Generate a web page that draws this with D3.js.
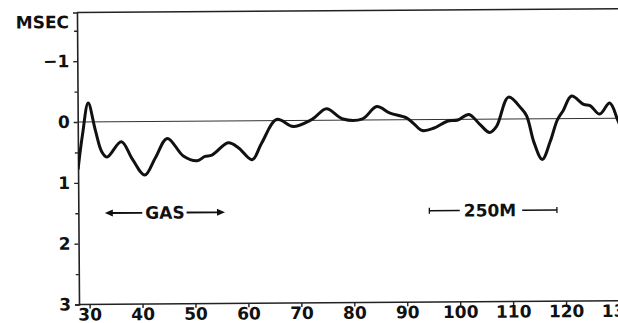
<!DOCTYPE html>
<html>
<head>
<meta charset="utf-8">
<script src="https://cdn.jsdelivr.net/npm/d3@7"></script>
<style>
  html, body { margin: 0; padding: 0; background: #fff; }
  svg { display: block; }
  text { font-family: "DejaVu Sans", sans-serif; font-weight: bold; fill: #111; }
</style>
</head>
<body>
<svg id="chart" width="618" height="323"></svg>
<script>
// Travel-time delay (msec) along the profile (distance units on the x axis)
const distance = [28.0, 28.9, 30.0, 31.3, 32.5, 33.5, 36.2, 38.3, 40.6, 42.6, 44.9, 47.9, 50.5, 52.0, 53.3,
  56.4, 58.3, 60.9, 62.7, 65.6, 68.7, 71.9, 72.8, 75.0, 78.1, 81.8, 84.5, 87.0, 90.1, 91.4, 93.1, 95.3,
  97.8, 99.8, 101.9, 103.9, 105.8, 107.1, 109.4, 111.8, 112.8, 114.2, 115.7, 117.2, 118.6, 119.7, 121.3,
  123.6, 124.8, 126.6, 128.5, 130.0, 131.0];
const delay = [0.78, 0.2, -0.31, 0.13, 0.49, 0.58, 0.33, 0.62, 0.88, 0.6, 0.28, 0.57, 0.65, 0.58, 0.56,
  0.36, 0.44, 0.64, 0.37, -0.02, 0.1, 0.0, -0.05, -0.19, -0.02, -0.02, -0.22, -0.11, -0.03, 0.06, 0.18, 0.14,
  0.03, 0.01, -0.08, 0.08, 0.22, 0.12, -0.36, -0.17, -0.05, 0.40, 0.67, 0.38, 0.02, -0.13, -0.37,
  -0.23, -0.21, -0.07, -0.25, 0.03, 0.25];

const xTicks = [30, 40, 50, 60, 70, 80, 90, 100, 110, 120, 130];
const yMajorTicks = [-1, 0, 1, 2, 3];
const yMinorTicks = [-1.5, -0.5, 0.5, 1.5, 2.5];

// Annotations: gas zone arrow and 250 m scale bar
const gasZone = [33.0, 55.7];
const gasLabel = "GAS";
const scaleBar = [94.3, 118.4];
const scaleLabel = "250M";
const annotationLevel = 1.5;

const svg = d3.select("#chart");
const plotLeft = 79, plotRight = 619, plotTop = 12.5, plotBottom = 304.5;

const x = d3.scaleLinear().domain([28, 130]).range([plotLeft, plotRight]);
const y = d3.scaleLinear().domain([-1.8, 3]).range([plotTop, plotBottom]);

const g = svg.append("g").attr("transform", `rotate(-0.4, ${plotLeft}, ${plotBottom})`);

g.append("defs").append("clipPath").attr("id", "plot")
  .append("rect").attr("x", plotLeft).attr("y", plotTop)
  .attr("width", plotRight - plotLeft + 5).attr("height", plotBottom - plotTop);

// Frame: top line and zero line
g.append("line").attr("x1", plotLeft).attr("x2", plotRight + 5).attr("y1", y(-1.8)).attr("y2", y(-1.8))
  .attr("stroke", "#222").attr("stroke-width", 1.6);
g.append("line").attr("x1", plotLeft).attr("x2", plotRight + 5).attr("y1", y(0)).attr("y2", y(0))
  .attr("stroke", "#333").attr("stroke-width", 1.1);

// Y axis
g.append("g").attr("transform", `translate(${plotLeft},0)`)
  .call(d3.axisLeft(y).tickValues(yMajorTicks).tickFormat(d3.format("d")).tickSize(4).tickPadding(4));
g.append("g").attr("transform", `translate(${plotLeft},0)`)
  .call(d3.axisLeft(y).tickValues(yMinorTicks).tickFormat("").tickSize(3))
  .select(".domain").remove();

// X axis
const xAxis = g.append("g").attr("transform", `translate(0,${plotBottom})`)
  .call(d3.axisBottom(x).tickValues(xTicks).tickFormat(d3.format("d")).tickSize(4).tickPadding(0));

g.selectAll(".domain").attr("stroke", "#222").attr("stroke-width", 1.6);
g.selectAll(".tick line").attr("stroke", "#222").attr("stroke-width", 1.4);
g.selectAll(".tick text").style("font-family", "'DejaVu Sans', sans-serif")
  .style("font-weight", "bold").style("font-size", "17px").attr("fill", "#111");
xAxis.select(".domain").attr("d", `M${plotLeft},0H${plotRight + 5}`);

// Axis unit
g.append("text").attr("x", 71).attr("y", 28).attr("text-anchor", "end")
  .style("font-size", "17px").text("MSEC");

// Delay curve
const line = d3.line().x((d, i) => x(distance[i])).y(d => y(d)).curve(d3.curveCatmullRom.alpha(0.5));
g.append("path").datum(delay).attr("clip-path", "url(#plot)")
  .attr("d", line).attr("fill", "none").attr("stroke", "#111").attr("stroke-width", 3)
  .attr("stroke-linejoin", "round");

// Gas zone arrow
const ay = y(annotationLevel);
const gasMid = (gasZone[0] + gasZone[1]) / 2;
const gasText = g.append("text").attr("x", x(gasMid)).attr("y", ay + 6).attr("text-anchor", "middle")
  .style("font-size", "17px").text(gasLabel);
const gw = gasText.node().getComputedTextLength();
const head = 8, half = 3.5;
g.append("line").attr("x1", x(gasZone[0]) + head - 1).attr("x2", x(gasMid) - gw / 2 - 3)
  .attr("y1", ay).attr("y2", ay).attr("stroke", "#111").attr("stroke-width", 1.8);
g.append("line").attr("x1", x(gasMid) + gw / 2 + 2).attr("x2", x(gasZone[1]) - head + 1)
  .attr("y1", ay).attr("y2", ay).attr("stroke", "#111").attr("stroke-width", 1.8);
g.append("path").attr("d", `M${x(gasZone[0])},${ay}l${head},${-half}v${2 * half}z`).attr("fill", "#111");
g.append("path").attr("d", `M${x(gasZone[1])},${ay}l${-head},${-half}v${2 * half}z`).attr("fill", "#111");

// 250 m scale bar
const sMid = (scaleBar[0] + scaleBar[1]) / 2 - 0.6;
const sText = g.append("text").attr("x", x(sMid)).attr("y", ay + 6).attr("text-anchor", "middle")
  .style("font-size", "17px").text(scaleLabel);
const sw = sText.node().getComputedTextLength();
g.append("line").attr("x1", x(scaleBar[0])).attr("x2", x(sMid) - sw / 2 - 4)
  .attr("y1", ay).attr("y2", ay).attr("stroke", "#111").attr("stroke-width", 1.5);
g.append("line").attr("x1", x(sMid) + sw / 2 + 6).attr("x2", x(scaleBar[1]))
  .attr("y1", ay).attr("y2", ay).attr("stroke", "#111").attr("stroke-width", 1.5);
scaleBar.forEach(v => {
  g.append("line").attr("x1", x(v)).attr("x2", x(v)).attr("y1", ay - 3).attr("y2", ay + 3)
    .attr("stroke", "#111").attr("stroke-width", 1.3);
});
</script>
</body>
</html>
